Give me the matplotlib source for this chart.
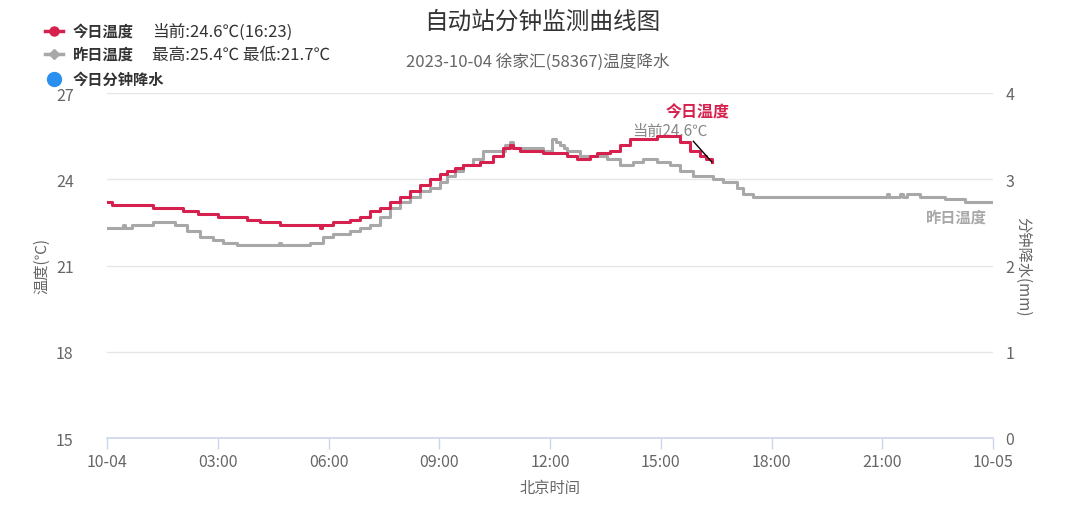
import matplotlib
matplotlib.use("Agg")
import matplotlib.pyplot as plt

plt.rcParams['font.family'] = ['Noto Sans CJK SC', 'DejaVu Sans']

# ---- data ----
today_times = ["00:00", "00:08", "01:15", "02:04", "02:28", "03:00", "03:02", "03:47", "04:08",
               "04:41", "05:46", "05:50", "06:07", "06:35", "06:51", "07:07", "07:24", "07:40",
               "07:56", "08:12", "08:29", "08:45", "09:01", "09:12", "09:26", "09:38", "10:06",
               "10:27", "10:44", "10:55", "11:00", "11:11", "11:49", "12:28", "12:44", "13:05",
               "13:16", "13:37", "13:54", "14:10", "14:54", "15:31", "15:47", "16:04", "16:13",
               "16:23"]
today_vals = [23.2, 23.1, 23.0, 22.9, 22.8, 22.7, 22.7, 22.6, 22.5,
              22.4, 22.3, 22.4, 22.5, 22.6, 22.7, 22.9, 23.0, 23.2,
              23.4, 23.6, 23.8, 24.0, 24.2, 24.3, 24.4, 24.5, 24.6,
              24.8, 25.1, 25.2, 25.1, 25.0, 24.9, 24.8, 24.7, 24.8,
              24.9, 25.0, 25.2, 25.4, 25.5, 25.3, 25.0, 24.8, 24.7,
              24.6]

yest_times = ["00:00", "00:26", "00:30", "00:41", "01:15", "01:50", "02:10", "02:31", "02:52",
              "03:08", "03:31", "04:04", "04:40", "04:42", "05:30", "05:51", "06:07", "06:35",
              "06:51", "07:07", "07:24", "07:40", "07:56", "08:12", "08:29", "08:45", "09:01",
              "09:12", "09:26", "09:38", "09:55", "10:11", "10:34", "10:47", "10:55", "11:00",
              "11:11", "11:49", "12:04", "12:10", "12:16", "12:22", "12:28", "12:49", "13:32",
              "13:54", "14:15", "14:31", "14:54", "15:15", "15:31", "15:52", "16:25", "16:41",
              "17:04", "17:14", "17:30", "21:08", "21:11", "21:29", "21:33", "21:40", "22:01",
              "22:42", "23:14", "24:00"]
yest_vals = [22.3, 22.4, 22.3, 22.4, 22.5, 22.4, 22.2, 22.0, 21.9,
             21.8, 21.7, 21.7, 21.8, 21.7, 21.8, 22.0, 22.1, 22.2,
             22.3, 22.4, 22.7, 23.0, 23.2, 23.4, 23.6, 23.7, 23.9,
             24.1, 24.3, 24.5, 24.7, 25.0, 25.0, 25.2, 25.3, 25.1,
             25.1, 25.0, 25.4, 25.3, 25.2, 25.1, 25.0, 24.8, 24.7,
             24.5, 24.6, 24.7, 24.6, 24.5, 24.3, 24.1, 24.0, 23.9,
             23.7, 23.5, 23.4, 23.5, 23.4, 23.5, 23.4, 23.5, 23.4,
             23.3, 23.2, 23.2]

precip_times = []
precip_vals = []

xtick_hours = [0, 3, 6, 9, 12, 15, 18, 21, 24]
xtick_labels = ["10-04", "03:00", "06:00", "09:00", "12:00", "15:00", "18:00", "21:00", "10-05"]
ytick_temp = [15, 18, 21, 24, 27]
ytick_rain = [0, 1, 2, 3, 4]

current_text = "当前:24.6℃(16:23)"
yest_text = "最高:25.4℃ 最低:21.7℃"


def to_h(s):
    h, m = s.split(":")
    return int(h) + int(m) / 60.0


RED = "#d6214e"
GRAY = "#a8a8a8"
BLUE = "#2b8ff0"
TXT = "#666666"

fig = plt.figure(figsize=(10.8, 5.06), dpi=100)
ax = fig.add_axes([107 / 1080, 1 - 439 / 506, (993 - 107) / 1080, (439 - 94) / 506])

tx = [to_h(t) for t in yest_times]
ax.plot(tx, yest_vals, drawstyle="steps-post", color=GRAY, lw=2.2, zorder=3)
tt = [to_h(t) for t in today_times]
ax.plot(tt, today_vals, drawstyle="steps-post", color=RED, lw=2.2, zorder=4)

ax.set_xlim(0, 24)
ax.set_ylim(15, 27)
ax.set_yticks(ytick_temp)
ax.set_xticks(xtick_hours)
ax.set_xticklabels(xtick_labels)
ax.grid(axis="y", color="#e6e6e6", lw=1)
ax.set_axisbelow(True)
for s in ["left", "right", "top"]:
    ax.spines[s].set_visible(False)
ax.spines["bottom"].set_color("#ccd6eb")
ax.spines["bottom"].set_linewidth(1.2)
ax.tick_params(axis="x", colors="#ccd6eb", length=8, width=1, labelcolor=TXT, labelsize=11.5, pad=3)
ax.tick_params(axis="y", length=0, labelcolor=TXT, labelsize=11.5, pad=24)
ax.set_ylabel("温度(℃)", color=TXT, fontsize=11, labelpad=4)
ax.set_xlabel("北京时间", color=TXT, fontsize=11, labelpad=6)

ax2 = ax.twinx()
ax2.bar(precip_times, precip_vals, color=BLUE)
ax2.set_ylim(0, 4)
ax2.set_yticks(ytick_rain)
for s in ["left", "right", "top", "bottom"]:
    ax2.spines[s].set_visible(False)
ax2.tick_params(axis="y", length=0, labelcolor=TXT, labelsize=11.5, pad=9)
ax2.set_ylabel("分钟降水(mm)", color=TXT, fontsize=11, rotation=-90, labelpad=12)

# annotations
end_t, end_v = tt[-1], today_vals[-1]
ax.plot([end_t - 0.5, end_t], [end_v + 0.72, end_v], color="black", lw=1.0, zorder=5)
ax.annotate("当前24.6℃", xy=(end_t, end_v), xytext=(-57, 23), textcoords="offset points",
            color="#888888", fontsize=11, ha="left", va="center")
ax.annotate("今日温度", xy=(end_t, end_v), xytext=(-33, 36), textcoords="offset points",
            color=RED, fontsize=11.5, fontweight="bold", ha="left", va="center")
ax.text(23.85, yest_vals[-1] - 0.5, "昨日温度", color=GRAY, fontsize=11, fontweight="bold",
        ha="right", va="center")

# titles
fig.text(542 / 1080, 1 - 22 / 506, "自动站分钟监测曲线图", ha="center", va="center",
         fontsize=17, color="#333333")
fig.text(538 / 1080, 1 - 62 / 506, "2023-10-04 徐家汇(58367)温度降水", ha="center", va="center",
         fontsize=12, color=TXT)


# legend
def fx(px):
    return px / 1080


def fy(py):
    return 1 - py / 506


fig.lines.append(plt.Line2D([fx(45), fx(63)], [fy(32), fy(32)], color=RED, lw=2.5,
                            transform=fig.transFigure))
fig.lines.append(plt.Line2D([fx(54)], [fy(32)], color=RED, marker="o", markersize=6.5,
                            lw=0, transform=fig.transFigure))
fig.lines.append(plt.Line2D([fx(45), fx(63)], [fy(55), fy(55)], color=GRAY, lw=2.5,
                            transform=fig.transFigure))
fig.lines.append(plt.Line2D([fx(54)], [fy(55)], color=GRAY, marker="D", markersize=5,
                            lw=0, transform=fig.transFigure))
fig.lines.append(plt.Line2D([fx(54)], [fy(80)], color=BLUE, marker="o", markersize=10,
                            lw=0, transform=fig.transFigure))
fig.text(fx(73), fy(32), "今日温度", fontsize=11, fontweight="bold", color="#333333", va="center")
fig.text(fx(152), fy(32), current_text, fontsize=12, color="#333333", va="center")
fig.text(fx(73), fy(55), "昨日温度", fontsize=11, fontweight="bold", color="#333333", va="center")
fig.text(fx(152), fy(55), yest_text, fontsize=12, color="#333333", va="center")
fig.text(fx(73), fy(80), "今日分钟降水", fontsize=11, fontweight="bold", color="#333333", va="center")

fig.savefig("out.png", dpi=100, facecolor="white")
